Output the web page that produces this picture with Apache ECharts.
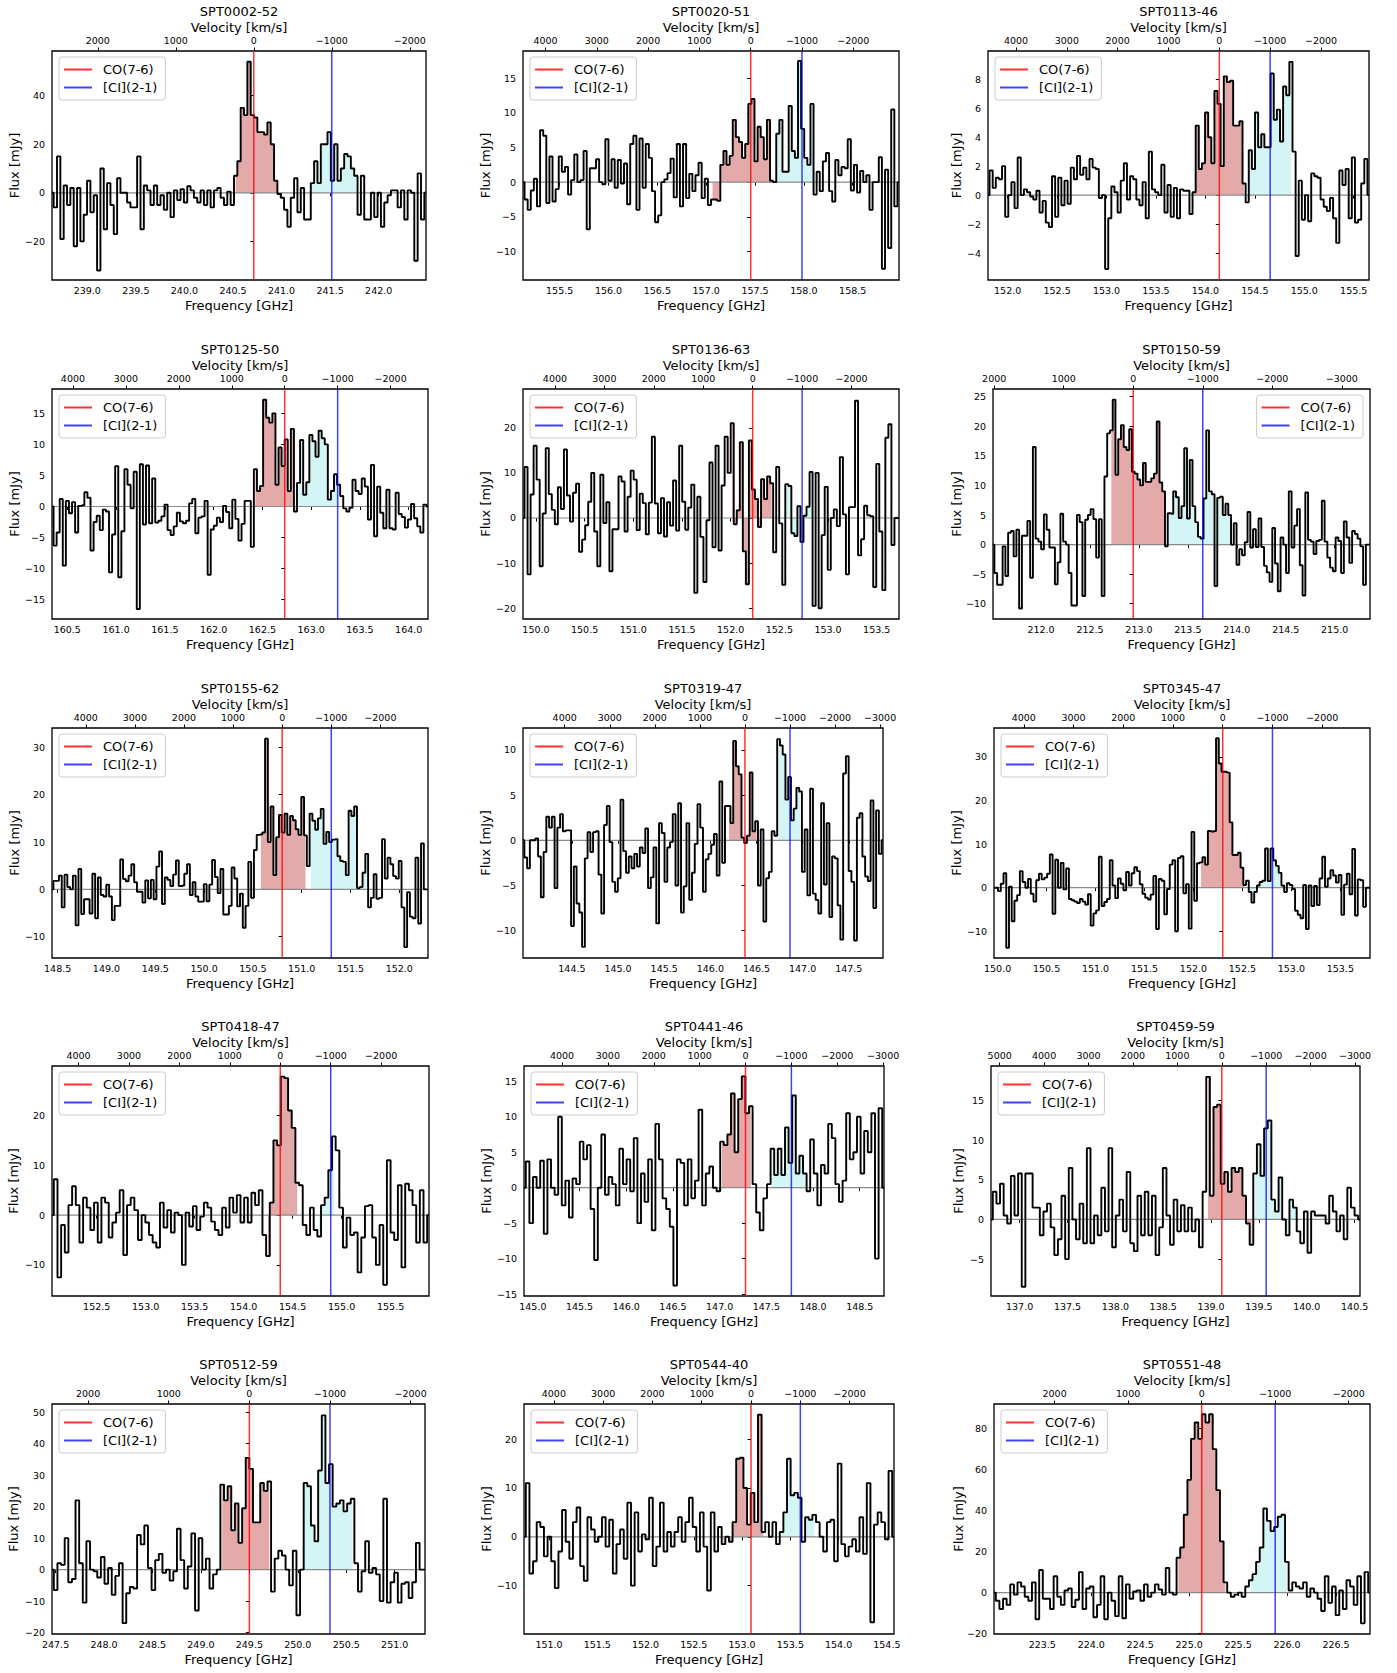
<!DOCTYPE html>
<html>
<head>
<meta charset="utf-8">
<script src="https://cdn.jsdelivr.net/npm/echarts@6/dist/echarts.min.js"></script>
<style>
html,body{margin:0;padding:0;background:#fff;}
#c{width:1397px;height:1673px;}
</style>
</head>
<body>
<div id="c"></div>
<script>
// ---------------- DATA ----------------
const names = ['SPT0002-52','SPT0020-51','SPT0113-46','SPT0125-50','SPT0136-63','SPT0150-59',
  'SPT0155-62','SPT0319-47','SPT0345-47','SPT0418-47','SPT0441-46','SPT0459-59',
  'SPT0512-59','SPT0544-40','SPT0551-48'];
// observed CO(7-6) frequency (GHz)
const coFreq = [240.714,157.456,154.141,162.729,152.226,212.942,150.80,146.375,152.299,154.374,147.277,139.112,249.50,153.093,225.128];
// first / last channel frequency (GHz)
const freqMin = [238.637,155.125,151.801,160.343,149.867,211.509,148.442,143.970,149.963,152.044,144.905,136.701,247.463,150.741,223.007];
const freqMax = [242.487,158.974,155.655,164.198,153.729,215.361,152.294,147.871,153.803,155.892,148.76,140.556,251.313,154.574,226.847];
const fluxMin = [-35.9,-14.13,-5.86,-18.12,-22.4,-12.58,-14.5,-13.03,-16.14,-16.24,-15.28,-9.66,-20.45,-19.9,-20.2];
const fluxMax = [58.4,18.94,9.95,18.92,28.6,26.3,34.08,12.43,36.65,29.93,17.17,19.37,52.6,27.2,92.0];
const fluxTicks = [
  [-20,0,20,40],[-10,-5,0,5,10,15],[-4,-2,0,2,4,6,8],
  [-15,-10,-5,0,5,10,15],[-20,-10,0,10,20],[-10,-5,0,5,10,15,20,25],
  [-10,0,10,20,30],[-10,-5,0,5,10],[-10,0,10,20,30],
  [-10,0,10,20],[-15,-10,-5,0,5,10,15],[-5,0,5,10,15],
  [-20,-10,0,10,20,30,40,50],[-10,0,10,20],[-20,0,20,40,60,80]
];
const freqTicks = [
  [239.0,239.5,240.0,240.5,241.0,241.5,242.0],
  [155.5,156.0,156.5,157.0,157.5,158.0,158.5],
  [152.0,152.5,153.0,153.5,154.0,154.5,155.0,155.5],
  [160.5,161.0,161.5,162.0,162.5,163.0,163.5,164.0],
  [150.0,150.5,151.0,151.5,152.0,152.5,153.0,153.5],
  [212.0,212.5,213.0,213.5,214.0,214.5,215.0],
  [148.5,149.0,149.5,150.0,150.5,151.0,151.5,152.0],
  [144.5,145.0,145.5,146.0,146.5,147.0,147.5],
  [150.0,150.5,151.0,151.5,152.0,152.5,153.0,153.5],
  [152.5,153.0,153.5,154.0,154.5,155.0,155.5],
  [145.0,145.5,146.0,146.5,147.0,147.5,148.0,148.5],
  [137.0,137.5,138.0,138.5,139.0,139.5,140.0,140.5],
  [247.5,248.0,248.5,249.0,249.5,250.0,250.5,251.0],
  [151.0,151.5,152.0,152.5,153.0,153.5,154.0,154.5],
  [223.5,224.0,224.5,225.0,225.5,226.0,226.5]
];
const velTicks = [
  [2000,1000,0,-1000,-2000],
  [4000,3000,2000,1000,0,-1000,-2000],
  [4000,3000,2000,1000,0,-1000,-2000],
  [4000,3000,2000,1000,0,-1000,-2000],
  [4000,3000,2000,1000,0,-1000,-2000],
  [2000,1000,0,-1000,-2000,-3000],
  [4000,3000,2000,1000,0,-1000,-2000],
  [4000,3000,2000,1000,0,-1000,-2000,-3000],
  [4000,3000,2000,1000,0,-1000,-2000],
  [4000,3000,2000,1000,0,-1000,-2000],
  [4000,3000,2000,1000,0,-1000,-2000,-3000],
  [5000,4000,3000,2000,1000,0,-1000,-2000,-3000],
  [2000,1000,0,-1000,-2000],
  [4000,3000,2000,1000,0,-1000,-2000],
  [2000,1000,0,-1000,-2000]
];
// shaded integration windows (GHz)
const coBand = [[240.495,241.006],[157.04,157.68],[153.877,154.398],[162.428,162.855],[152.0,152.425],
  [212.692,213.282],[150.563,151.041],[146.176,146.508],[152.068,152.527],[154.246,154.556],
  [146.99,147.366],[138.94,139.453],[249.194,249.728],[152.787,153.25],[224.868,225.38]];
const ciBand = [[241.276,241.79],[157.68,158.132],[154.408,154.893],[162.855,163.30],[152.52,152.86],
  [213.282,213.971],[151.075,151.686],[146.735,146.998],[152.578,152.935],[154.757,154.958],
  [147.53,147.94],[139.453,139.92],[250.032,250.585],[153.38,153.778],[225.60,226.03]];

// flux density per channel (mJy)
const flux_SPT0002_52 = [0,-6,15,-19,3,-5,2,-22,2,-20,-9,5,-8,-1,-32,10,-15,4,-5,-17,6,0,0,-4,-6,-6,15,-15,3,1,-5,3,-5,-1,-7,0,-10,1,-3,1.5,-4,2.7,1,-2,-4,1,-5,1,-6,1,2,-2,-5,0.5,-5,
  7,13,35,32,54,32,31,25,25,24,29,20,5,
  -0.5,-2,-7,-14,-2,6,-8,2,-11,-11,4,13,4,20,20,25,5,20,5,10,16,15,10,7,-9,7,-11,-11,0,-10,0,-14,-4,-1,1,1,-6,1,-11,1,0,-28,8,-11,0];
const flux_SPT0020_51 = [0,-2.5,-4,-1.2,0.5,-3.5,7.5,6.7,-3,3.7,-2.8,-1,3.7,1.5,2.2,-1.8,0.3,4,0,0.3,4.5,-6.8,2,2,3.3,0,-0.3,6.2,0.2,3.3,-0.8,3.2,-0.2,2.7,-3.2,5.5,6.7,-4,6.3,-0.8,5.5,3.5,-1.3,-5.8,-4.8,0,0.4,1.3,3.4,-2.2,5.5,-3.5,5.5,-2.3,1.2,-1.3,1,2.8,-2.3,0.5,-3.3,-2.5,-2.5,-2.7,2.5,4.5,2.5,3.8,9,6.5,5.8,3.5,5.5,11.3,12,3,8,6.5,3.3,9,0.2,0,7,9,1.5,1.5,11,4.5,3.5,17.5,7.7,3.5,2.5,11.3,-1.8,1.5,-1.3,3,4.2,-1.3,-2.8,3.2,1,2.2,2,6.2,-1.2,2.5,-1.5,1.6,0,1,-4,0,0,3.6,-12.5,1.8,-9.5,10.5,-3.5,0];
const flux_SPT0113_46 = [0,1.7,0.5,1.2,1.1,2,-1.5,0,0.9,-0.9,2.6,0,0.4,0.2,-0.1,-0.3,0.3,-1.2,-0.4,-1.9,-2.2,1.3,-1.5,1.2,-0.7,1,-0.6,1.9,1.1,2.7,1.4,1.9,1.1,2.5,1.9,1.8,-0.2,0,-5.1,-1.6,0.6,0.2,-1.2,1,2.2,-0.3,1.3,1.1,-0.3,-0.7,0.9,-1.6,3,0.4,0.2,0,2.1,-1.2,0.7,-1.5,0.5,-1.6,0.4,0.3,0.3,-1.3,0.2,4.8,1.8,2.2,5.7,4,2.2,7.2,6.3,2,8.2,7.8,7.9,4.8,4.8,5.1,0.8,-0.5,3.1,1.8,5.7,3.3,4.2,3.3,3.3,8.4,5.2,5.9,3.7,7.5,6.9,9.2,3,-4.2,1,-1.7,0,-1.8,1.5,1.3,1.2,-0.3,-0.8,-1.1,-0.2,-1.6,-3.3,1.7,0.7,1.8,-1.6,2.6,-1.9,-1.7,0.8,2.5,0];
const flux_SPT0125_50 = [0,-6.3,-4.2,1.2,-9.5,0.9,-1.1,0.7,-4.2,0.1,0.2,2.3,1.4,-7.1,-2.5,-1.5,-3.8,-0.5,-0.8,-10.6,-4.5,6.5,-11.4,-4,6,3.5,-0.3,5.6,-16.5,6.8,-2.9,6.6,-2.7,4.5,-2.6,-2.3,-1.6,0.3,-3.8,-4.6,-3.2,-1,-2.4,-2.7,-2.3,0.5,1.2,-4.3,-1.8,-1.6,0.9,-11,-3.7,-3.1,-1.8,-2.5,0.1,-0.9,-3.5,1.1,-2,-5.5,-2.8,0.9,0.9,-6.5,6,2.5,3.3,17.2,14.3,13.5,15,3.5,9.5,6.5,10.8,2.5,12.5,-0.8,3.8,10.7,1.9,3.9,11.5,10.5,8,12.2,11,10,1.1,2.5,5.2,3.5,1.7,-0.3,-0.8,-0.2,4.3,2.5,2,4.5,3.2,-2.1,6.7,-4.8,3.2,-1,-3.5,2.7,-3.5,-3.7,2.2,-1.2,-1.7,-3.4,-2.1,0.4,-1.9,-3.2,-4.2,0.3,0];
const flux_SPT0136_63 = [0,11.3,-12.5,5.2,16,8.5,-10.7,1,15.5,5.3,1.8,-1.4,6.8,2,15.2,5,-0.8,5.6,7.6,-7.5,-4.8,-1.6,3.6,10,-3,-10.7,9.6,-1.1,3.5,-11.8,-2.5,-2.5,9.2,8.1,-3,4.7,10.5,8.5,-2.7,5.4,3.3,-3.6,3.4,18,3.2,-3.4,4.4,-4.1,3.5,-1.7,8.3,-2.8,16,3.6,-2.6,2.3,7.4,-16.6,4.7,-4.2,-14.2,-0.5,12.3,-6.5,16,-7.2,7.2,18,10,21,-1.4,1.7,16.8,-7.4,-14.7,17.2,6.3,4.2,-2,8.6,4.2,9.2,7.7,-7.6,11.3,-1.2,-14.8,7.5,7.1,-3.4,-4,2.6,-5.3,0.5,2.5,10.2,-19.5,10,-20,-3.8,6.9,-11.5,0,1.9,-1.8,13.5,0.8,-12.5,2.4,2.4,26,-8.3,-4.7,2.7,0.6,0.4,-15.3,12,-3,-16,17.8,20.8,-6,0,0];
const flux_SPT0150_59 = [0,-4.8,-6.8,-6.8,-0.3,-5.3,2,2.3,-2,2.5,-10.8,1.5,1.5,4,-5.6,16.5,1,0.5,-0.8,5.1,2.5,-0.5,-0.5,-6.7,-3,5.2,0.5,0,-4.8,-10.3,-10.3,5,3.8,-8.7,4.2,5,6,4.3,-2.2,4.3,-8.7,11.5,18.8,19.3,24.5,11.8,17.8,20.2,16.5,16,19.5,12.3,12,11,10,13.8,10.6,10.6,11.2,12,20.8,10.5,9,-0.3,5.3,5.2,9,8,4.5,6.5,16.3,4.4,14.3,6.5,3.8,1.3,1,7.8,19.3,9,8.5,-7,7.9,8.1,5,6.9,5,0,3.6,-3.4,-0.8,-1.8,0.4,5.5,-0.5,2.6,-0.4,4.4,-0.4,-3.6,-4.7,-6.3,2.8,-3.2,-7.9,1.2,0,-4.8,9,-0.5,3.2,6,-3.5,-8.6,8.8,0.8,0.5,-1.6,0.6,0.8,7.4,0.5,-2.2,-3.9,-4.5,1.2,0.6,-4.8,3.9,1.2,-3.1,2.3,1.8,1,-0.3,-6.8,0,0];
const flux_SPT0155_62 = [0,1.8,1.8,2.9,-3.8,3.1,0.5,0,2.9,-7.6,4.3,-5.2,-2.1,-2.1,-5.1,3.3,-6.1,2.5,-1.2,-1.5,1,-1.5,-6.5,-3.5,-3.5,6.3,2.2,1.7,2.9,5.3,1.5,-0.5,-0.5,-2.8,1.9,-1.9,2,-2.1,4.8,8,-3.1,2.5,2,0.7,3.1,6.1,0.7,0.8,3.3,5.3,-1.2,1.5,-1.5,-2.6,-2.6,1.1,-2.5,1,6.2,2.6,-0.8,4.3,-5.3,-5.3,-3.5,4.6,2.3,-3.6,-0.9,-8.1,-3.5,5.8,-1.8,8.3,11.5,11.6,12,31.8,10,17.5,3,11,15.7,12,16,11.5,15.5,14.6,12.7,11.5,19.5,11.4,4.9,16,14.5,12.6,15,17,9.6,12.1,10,10.5,10.6,7,6,5.8,3,16.6,15.5,17.5,0.3,0.5,3.5,7.5,-3.8,-1.8,3.2,-2,-1.8,10.6,2.3,6.7,5.3,2.8,2.3,6,-3.8,-12.2,-0.6,-5.8,-6.1,6.7,-7.2,9.7,0,0];
const flux_SPT0319_47 = [0,-1.9,-3.1,0,0,0.2,-1.8,-6.3,-1.3,2.6,1.4,2.6,-5.3,1.4,2.9,1,1.1,1.1,-9.5,-2.9,-7,-8,-11.8,-2,0.9,-1.3,0.9,1,-3.8,-8.1,1.7,3.8,-0.2,-4.6,-5.7,-4.2,4.5,-1.2,-3.6,-1.8,-3.1,-1.5,-2.9,-0.8,-1.4,1.3,-5.3,-4.1,-0.8,-9.2,1.9,0.8,-4.6,-0.8,-0.2,2.9,-5,4.1,-8,-5.1,1.9,-6.6,-3.6,-0.4,4,1.4,-5.7,-2.1,-1.5,-0.5,0.7,-3.9,6.5,-2.5,3.8,3.8,1.9,11,8.2,7.3,0.3,-0.3,0.5,7.5,1,2.1,-5,1.2,-9,-4.2,-3.5,1,0.5,11.2,10.5,9.5,4.5,7,2.2,3.5,5.8,5.4,-3.5,1.2,-6.1,5.7,-5.9,-6.6,-8.1,4.1,-4.9,1.9,-8.5,-1.8,-2,-7.2,-11,7.4,9.3,-3.4,-4.6,-11.1,2.5,3,-1.8,-4,-4.5,4.4,-7.5,3.3,-1.5,0];
const flux_SPT0345_47 = [0,0,-0.8,0.9,3.3,-13.8,0.2,-7.7,-3,-1.7,3.8,1.3,0,2,-1.4,-3.2,1.7,3.2,1.9,2.3,3.2,7.6,-6,6.4,0,5.7,-0.4,4.4,-2.6,-2.9,-3.2,-3.5,-2.6,-3.2,-3.9,-1.5,-8.7,-5.9,-5.2,7.1,-4.2,-3.3,-2.6,6.3,0.5,-2.4,2.1,0.9,-0.6,3.6,0.5,3.3,4.7,3.8,0.8,-1.4,-2.3,-2.7,-1.6,2.7,-9.5,2,1.6,-6.1,-0.3,5.3,6.3,-10,6.8,7.2,-1.3,0.8,-9.4,12.8,-3,5.6,5.8,7,5.3,13,12.9,13,34.3,28.5,26.6,26.6,26.4,15,7.5,7.5,8,4.6,0.6,1.6,-1,-3.4,-1,0.5,1.3,1.6,9,1.5,9,6.3,5,3.4,0.5,-1,1,0.6,-0.3,-5.3,-6.2,-7,0.6,-9.5,0.5,-4.2,0.4,-4,2.1,7.1,0.2,2.1,4,2.8,1.2,2.9,-6.2,0.7,3.2,-1.5,8.9,-6.4,1.9,1.7,-4.4,0,0];
const flux_SPT0418_47 = [0,7.2,-12.5,-2,-7.5,2,5.8,2,-5.5,3.5,1.5,-3,2.5,-5.5,3.5,2.5,-4.5,-1.5,0.5,5,-8,2,3.5,1,-5,0,-1.5,-4,-5.5,-6.5,2.5,-2.5,1,-3.5,0.5,0,-10,0.5,-2.3,1.8,-3,-0.3,2.5,1.5,-1.3,-3,-4,1.5,-2.5,3.5,0.5,4,-1.5,3.5,-1.5,4.5,2,5,-4,-8.2,2.5,15,14,27.8,27.5,21,17.5,6.5,6,-2,-4,1.5,-3,-4.3,2,3.5,9,15.8,13,1.5,-6.5,-0.5,-4,-3.5,-11.5,-4.5,1.8,2,-4.5,-10,-2,-14,11,-3.5,-5,6,-10.5,6.3,5,2,-5.5,5,-5.5,0];
const flux_SPT0441_46 = [0,3.7,-5,1.5,0,3.8,-6.5,4,0,-1,10,-2.5,1,-4.2,1.3,0.5,6.5,4,6,-3,-10.2,0,7.5,-1,1.5,0.5,-2.5,5.5,0.5,4,-0.5,7,-5,2,-2,4,-6,9,4,-1.5,-3,-5.5,-13.8,4,3.5,-2.5,4,-1.5,1,11,-2.5,2,3,0,-0.5,6.5,6,7.5,13.3,5,12.5,15.7,10.5,11.5,0.5,-3.5,-6,-1.5,0.5,5.5,1.8,5.5,1.8,8.5,3.5,13,2,4.5,2,-0.5,6.8,2,-2.5,3.2,2,9,7,0.5,-2,1,10.5,4,5,10,2,8,5,10.5,-10,11.2,0];
const flux_SPT0459_59 = [0,3.5,2,4.5,0.5,-0.5,5.5,0.5,5.8,-8.5,5.8,5.8,1.5,1.5,-2,1,2,-1,-4.5,-2.5,3,-5,6.5,0,-2.5,2,-3,9,-3,0.5,-2,4,-1.5,9,-3.5,0.5,2.5,-1.5,6,-3,-4,3,-2,3.5,-2,3,-4.5,-1,6.5,0.5,-3.2,2.5,-1.5,1.8,-1.5,1.5,-1.5,0,-3.5,3.5,18,3,14.2,14.5,4.5,6,3.5,6.5,6,6.5,3,-0.5,-3.2,5.8,9.5,5.5,11.5,12.5,2.5,1,5.3,0,-2,2.5,1.5,-1.5,-3,1,-4.2,1,0.5,0.5,0.5,-0.5,3,1,-1.5,0.5,-2.5,4,1.5,0.5,0];
const flux_SPT0512_59 = [0,-6.5,2,1.5,10,-4,-3,22,2,-10.5,9,0,-0.5,-2.5,4,-4.5,0.5,-8,-2,2,-17,-7.5,-5.5,-6,11,8,14,0.5,-6.5,3,5,-1,0,-3.5,-0.5,13,3,-6,1,11.5,-13,10,0,3.5,-6,-1.5,0,27,22,26.5,12.5,21,8.5,19.5,35.5,32,15,15,27.5,25,28,-7,3.5,6,4.5,0,-5,6,-14.5,0,27.5,26.5,14,9,31.5,49,27.5,33.5,20,21,22,18.5,21,22.5,2,-7,-0.5,9,-1,0.5,-1.5,-10,22.5,-10.5,-4,-1,-10.5,-4.5,-4,-9,-4,8.5,0,0];
const flux_SPT0544_40 = [0,11,-7.5,-5,3,2,-4,0,-5,-10.5,-3,5.5,-1,-4.5,3,6,-6,-9,4,1.5,-1,0,4,-2,3.5,-7.5,-1.5,1.5,-4.5,7,-10,5,-3,0.5,-0.5,8,-6,-2,7,-3,1,-2,1,4,-1,3,8,2,-3,5,-2,-11,5,-3,2,-1.5,0,-1,3,16,16.2,10,2.5,9,3,25,1,3,0,3,-1.5,1,5,16,8.5,9,8,-1,4,3.5,4.5,3,0,-3,3,3.5,-5,15,-1.5,-4,-2,-0.5,-3,4,-3.5,11,-17.5,2.5,5,3,-0.5,13.5,0];
const flux_SPT0551_48 = [0,-4,-8,-3,-6,4,-1,5,3,-2,-4,5,-13,11,-3,-3,-8,8,-2,-6,1,2,-7,-3.5,10,-8,2,3,-12,-6,8,-13,0,-4,-11.5,8,-12.5,4,-3,0.5,1,-4,4,-2,0,4,1.5,-1,12,0,-1,17,22,38,55,75,83,75,87,83,87,70,50,25,5,0,-2,-1,0,-2,3,6,9,15,22,41,35,30,32,37,38,15,1,5,3,2,5,-2,2,0,-3,-9,8,-5,3,-11,1,-8,6,3,-6,8,-15,10,0];

const fluxes = [flux_SPT0002_52,flux_SPT0020_51,flux_SPT0113_46,flux_SPT0125_50,flux_SPT0136_63,flux_SPT0150_59,
  flux_SPT0155_62,flux_SPT0319_47,flux_SPT0345_47,flux_SPT0418_47,flux_SPT0441_46,flux_SPT0459_59,
  flux_SPT0512_59,flux_SPT0544_40,flux_SPT0551_48];

// ---------------- LAYOUT (pixels) ----------------
// [left, top, width, height, yNameGap]
const panelBox = [
  [52,51,374,229,31.5],[523,51,376,229,31.5],[988,51,381,229,25.5],
  [52,389,376,230,31.5],[523,389,376,230,31.5],[993,389,377,230,30.5],
  [52,728,376,230,31.5],[523,728,360,230,31.5],[994,728,376,230,31.5],
  [52,1066,377,230,32],[524,1066,360,230,31],[991,1066,369,230,26.5],
  [52,1404,373,230,32],[524,1404,370,230,31],[994,1404,376,230,29.5]
];
const legendOnRight = [false,false,false,false,false,true,false,false,false,false,false,false,false,false,false];

// ---------------- BUILD ----------------
const C_KMS = 299792.458;
const CI_RATIO = 809.34197 / 806.65181;   // [CI](2-1) / CO(7-6) rest frequencies
const FONT = 'DejaVu Sans';
const CO_COLOR = 'rgba(255,0,0,0.8)';
const CI_COLOR = 'rgba(0,0,255,0.75)';
const W = 1397;
const fmtMinus = v => (v < 0 ? '\u2212' + Math.abs(v) : String(v));

const option = {
  animation: false,
  backgroundColor: '#fff',
  textStyle: {fontFamily: FONT},
  title: [], grid: [], xAxis: [], yAxis: [], legend: [], series: []
};

const tickFont = {fontSize: 9.5, color: '#000', fontFamily: FONT};
const nameFont = {fontSize: 13, color: '#000', fontFamily: FONT, fontWeight: 'normal'};

for (let i = 0; i < names.length; i++) {
  const [gl, gt, gw, gh, yGap] = panelBox[i];
  option.title.push({
    text: names[i], left: gl + gw / 2, top: gt - 40,
    textAlign: 'center', textVerticalAlign: 'middle', padding: 0,
    textStyle: {fontSize: 13, fontWeight: 'normal', color: '#000', fontFamily: FONT}
  });
  option.grid.push({
    left: gl, top: gt, width: gw, height: gh, show: true,
    borderColor: '#000', borderWidth: 1.3, backgroundColor: 'transparent',
    containLabel: false, outerBoundsMode: 'none'
  });
  // bottom frequency axis
  option.xAxis.push({
    type: 'value', gridIndex: i, position: 'bottom',
    min: freqMin[i], max: freqMax[i],
    name: 'Frequency [GHz]', nameLocation: 'middle', nameGap: 18.5, nameTextStyle: nameFont,
    nameMoveOverlap: false,
    axisLine: {show: false},
    axisTick: {show: true, inside: false, length: 3.5, lineStyle: {color: '#000', width: 1}, customValues: freqTicks[i]},
    axisLabel: Object.assign({show: true, margin: 5.5, customValues: freqTicks[i], formatter: v => Number(v).toFixed(1)}, tickFont),
    splitLine: {show: false}
  });
  // top velocity axis (radio convention relative to CO(7-6))
  const vLeft = C_KMS * (coFreq[i] - freqMin[i]) / coFreq[i];
  const vRight = C_KMS * (coFreq[i] - freqMax[i]) / coFreq[i];
  option.xAxis.push({
    type: 'value', gridIndex: i, position: 'top', inverse: true,
    min: vRight, max: vLeft,
    name: 'Velocity [km/s]', nameLocation: 'middle', nameGap: 17.5, nameTextStyle: nameFont,
    nameMoveOverlap: false,
    axisLine: {show: false},
    axisTick: {show: true, inside: false, length: 3.5, lineStyle: {color: '#000', width: 1}, customValues: velTicks[i]},
    axisLabel: Object.assign({show: true, margin: 6, customValues: velTicks[i], formatter: v => fmtMinus(Math.round(v))}, tickFont),
    splitLine: {show: false}
  });
  option.yAxis.push({
    type: 'value', gridIndex: i, min: fluxMin[i], max: fluxMax[i],
    name: 'Flux [mJy]', nameLocation: 'middle', nameGap: yGap, nameTextStyle: nameFont,
    nameMoveOverlap: false,
    axisLine: {show: false},
    axisTick: {show: true, inside: false, length: 3.5, lineStyle: {color: '#000', width: 1}, customValues: fluxTicks[i]},
    axisLabel: Object.assign({show: true, margin: 7, customValues: fluxTicks[i], formatter: v => fmtMinus(Math.round(v * 100) / 100)}, tickFont),
    splitLine: {show: false}
  });

  const lg = {
    orient: 'vertical', top: gt + 6,
    itemWidth: 28, itemHeight: 2, itemGap: 5, icon: 'rect',
    padding: [6, 8, 6, 5], borderColor: '#cccccc', borderWidth: 1, borderRadius: 3,
    backgroundColor: 'rgba(255,255,255,0.85)', selectedMode: false,
    textStyle: {fontSize: 13, color: '#000', fontFamily: FONT, padding: [0, 0, 0, 6]},
    data: ['CO(7-6)', '[CI](2-1)']
  };
  if (legendOnRight[i]) lg.right = W - (gl + gw - 7); else lg.left = gl + 7;
  option.legend.push(lg);

  // channels
  const y = fluxes[i];
  const n = y.length;
  const df = (freqMax[i] - freqMin[i]) / (n - 1);
  const pts = y.map((v, j) => [freqMin[i] + j * df, v]);
  const inBand = b => pts.filter(p => p[0] >= b[0] && p[0] <= b[1]);
  const xi = 2 * i;
  const base = {type: 'line', xAxisIndex: xi, yAxisIndex: i, step: 'middle', symbol: 'none', showSymbol: false, silent: true, animation: false};
  option.series.push(Object.assign({}, base, {
    data: inBand(coBand[i]), lineStyle: {width: 0, opacity: 0}, areaStyle: {color: '#e4aaaa', opacity: 1}, z: 2
  }));
  option.series.push(Object.assign({}, base, {
    data: inBand(ciBand[i]), lineStyle: {width: 0, opacity: 0}, areaStyle: {color: '#d4f5f5', opacity: 1}, z: 2
  }));
  option.series.push({
    type: 'line', xAxisIndex: xi, yAxisIndex: i, symbol: 'none', silent: true,
    data: [[freqMin[i], 0], [freqMax[i], 0]], lineStyle: {color: '#8a8a8a', width: 1.2}, z: 3
  });
  option.series.push(Object.assign({}, base, {
    data: pts, lineStyle: {color: '#000', width: 1.9}, itemStyle: {color: '#000'}, z: 4
  }));
  const fco = coFreq[i], fci = coFreq[i] * CI_RATIO;
  option.series.push({
    type: 'line', name: 'CO(7-6)', xAxisIndex: xi, yAxisIndex: i, symbol: 'none', silent: true,
    data: [[fco, fluxMin[i]], [fco, fluxMax[i]]],
    lineStyle: {color: CO_COLOR, width: 1.5}, itemStyle: {color: CO_COLOR}, z: 5
  });
  option.series.push({
    type: 'line', name: '[CI](2-1)', xAxisIndex: xi, yAxisIndex: i, symbol: 'none', silent: true,
    data: [[fci, fluxMin[i]], [fci, fluxMax[i]]],
    lineStyle: {color: CI_COLOR, width: 1.5}, itemStyle: {color: CI_COLOR}, z: 5
  });
}

const chart = echarts.init(document.getElementById('c'), null, {renderer: 'svg', width: 1397, height: 1673});
chart.setOption(option);
</script>
</body>
</html>
